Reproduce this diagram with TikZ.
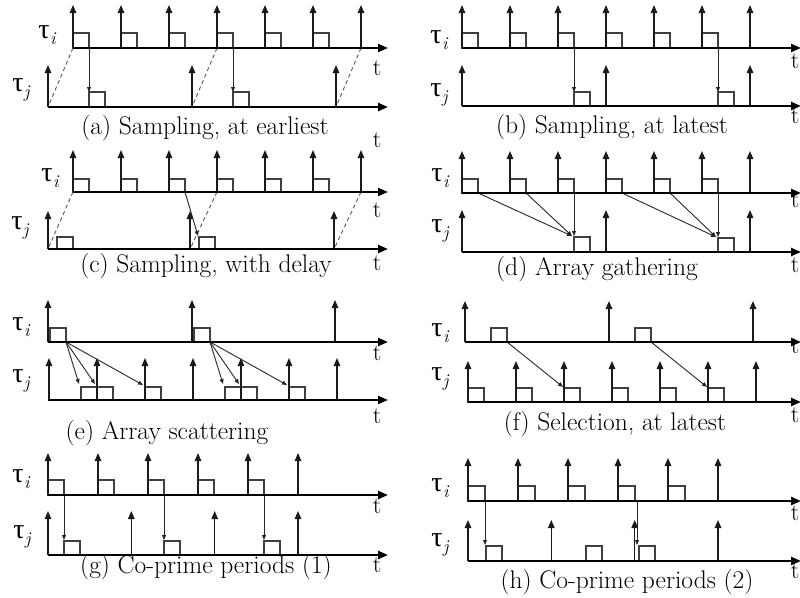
\documentclass[tikz,border=0pt]{standalone}
\usepackage{fontspec}
\newfontfamily\grk{Liberation Serif}
\usetikzlibrary{arrows.meta}
\newcommand{\tauof}[1]{{\grk τ}\kern0.5pt\raisebox{-6pt}{\fontsize{18}{20}\selectfont\itshape #1}}
\tikzset{
  timeaxis/.style={line width=2.3pt, -{Triangle[length=10pt,width=8pt]}},
  pulse/.style={line width=1.3pt, black!90, -{Triangle[length=8pt,width=6.5pt]}},
  jobbox/.style={draw=black!75, line width=1.1pt},
  msg/.style={line width=0.9pt, black!85, -{Triangle[length=5pt,width=4pt]}},
  dep/.style={line width=0.9pt, black!65, dash pattern=on 4pt off 3pt},
  tlab/.style={font=\fontsize{24}{28}\selectfont\addfontfeatures{FakeBold=1.5}, inner sep=0pt, anchor=base},
  captext/.style={font=\fontsize{25.5}{30}\selectfont\addfontfeatures{FakeBold=1.5}, inner sep=0pt, anchor=base},
  taulab/.style={font=\fontsize{28}{32}\selectfont, inner sep=0pt},
}
\begin{document}
\begin{tikzpicture}[x=1pt,y=-1pt]
\useasboundingbox (0,0) rectangle (800,597);

% ---------------- (a) Sampling, at earliest
\foreach \k in {0,...,5} \draw[jobbox] (73+48*\k,48) rectangle ++(16,-15);
\draw[jobbox] (89,107) rectangle ++(16,-15);
\draw[jobbox] (233,107) rectangle ++(16,-15);
\foreach \k in {0,...,6} \draw[pulse] (73+48*\k,48) -- ++(0,-43);
\foreach \x in {48,192,336} \draw[pulse] (\x,107) -- ++(0,-42);
\draw[dep] (73,48) -- (48,107);
\draw[dep] (217,48) -- (192,107);
\draw[dep] (361,48) -- (336,107);
\draw[msg] (89,48) -- (89,92);
\draw[msg] (233,48) -- (233,92);
\draw[timeaxis] (73,48) -- (388,48);
\draw[timeaxis] (48,107) -- (388,107);
\node[taulab] (ai) at (47,35) {\tauof{i}};
\node[taulab] (aj) at (21,90) {\tauof{j}};
\node[tlab] (ati) at (377,75) {t};
\node[tlab] (atj) at (377,147) {t};
\node[captext] (capa) at (205,134) {(a) Sampling, at earliest};

% ---------------- (b) Sampling, at latest
\foreach \k in {0,...,5} \draw[jobbox] (462+48*\k,48) rectangle ++(16,-15);
\draw[jobbox] (574,106) rectangle ++(16,-14);
\draw[jobbox] (718,106) rectangle ++(16,-14);
\foreach \k in {0,...,6} \draw[pulse] (462+48*\k,48) -- ++(0,-43);
\foreach \x in {462,606,750} \draw[pulse] (\x,106) -- ++(0,-41);
\draw[msg] (574,48) -- (574,92);
\draw[msg] (718,48) -- (718,92);
\draw[timeaxis] (462,48) -- (801,48);
\draw[timeaxis] (462,106) -- (801,106);
\node[taulab] (bi) at (439,40) {\tauof{i}};
\node[taulab] (bj) at (439,95) {\tauof{j}};
\node[tlab] (bti) at (795,68) {t};
\node[tlab] (btj) at (795,123) {t};
\node[captext] (capb) at (612,133) {(b) Sampling, at latest};

% ---------------- (c) Sampling, with delay
\foreach \k in {0,...,5} \draw[jobbox] (73+48*\k,192) rectangle ++(16,-13);
\draw[jobbox] (57,249) rectangle ++(16,-12);
\draw[jobbox] (199,249) rectangle ++(16,-12);
\foreach \k in {0,...,6} \draw[pulse] (73+48*\k,192) -- ++(0,-42);
\foreach \x in {48,190,334} \draw[pulse] (\x,249) -- ++(0,-38);
\draw[dep] (73,192) -- (48,249);
\draw[dep] (217,192) -- (190,249);
\draw[dep] (361,192) -- (334,249);
\draw[msg] (185,192) -- (198,236);
\draw[timeaxis] (73,192) -- (388,192);
\draw[timeaxis] (48,249) -- (388,249);
\node[taulab] (ci) at (50,178) {\tauof{i}};
\node[taulab] (cj) at (20,228) {\tauof{j}};
\node[tlab] (cti) at (377,217) {t};
\node[tlab] (ctj) at (377,270) {t};
\node[captext] (capc) at (206,272) {(c) Sampling, with delay};

% ---------------- (d) Array gathering
\foreach \k in {0,...,5} \draw[jobbox] (462+48*\k,193) rectangle ++(16,-14);
\draw[jobbox] (574,252) rectangle ++(16,-15);
\draw[jobbox] (718,252) rectangle ++(16,-14);
\foreach \k in {0,...,6} \draw[pulse] (462+48*\k,193) -- ++(0,-42);
\foreach \x in {462,606,750} \draw[pulse] (\x,252) -- ++(0,-42);
\draw[msg] (478,193) -- (572,236);
\draw[msg] (526,193) -- (572,236);
\draw[msg] (574,193) -- (574,236);
\draw[msg] (622,193) -- (716,237);
\draw[msg] (670,193) -- (716,237);
\draw[msg] (718,193) -- (718,237);
\draw[timeaxis] (462,193) -- (801,193);
\draw[timeaxis] (462,252) -- (801,252);
\node[taulab] (di) at (440,178) {\tauof{i}};
\node[taulab] (dj) at (440,231) {\tauof{j}};
\node[tlab] (dti) at (795,207) {t};
\node[tlab] (dtj) at (795,272) {t};
\node[captext] (capd) at (597,275) {(d) Array gathering};

% ---------------- (e) Array scattering
\foreach \x in {50,194} \draw[jobbox] (\x,342) rectangle ++(16,-14);
\foreach \x in {81,97,145,225,241,289} \draw[jobbox] (\x,400) rectangle ++(16,-13);
\foreach \x in {48,192,335} \draw[pulse] (\x,342) -- ++(0,-42);
\foreach \k in {0,...,6} \draw[pulse] (49+48*\k,400) -- ++(0,-42);
\draw[msg] (66,342) -- (79,384);
\draw[msg] (66,342) -- (95,384);
\draw[msg] (66,342) -- (143,385);
\draw[msg] (210,342) -- (223,384);
\draw[msg] (210,342) -- (239,384);
\draw[msg] (210,342) -- (287,385);
\draw[timeaxis] (48,342) -- (388,342);
\draw[timeaxis] (48,400) -- (388,400);
\node[taulab] (ei) at (21,327) {\tauof{i}};
\node[taulab] (ej) at (21,381) {\tauof{j}};
\node[tlab] (eti) at (377,360) {t};
\node[tlab] (etj) at (377,423) {t};
\node[captext] (cape) at (167,439) {(e) Array scattering};

% ---------------- (f) Selection, at latest
\foreach \x in {491,635} \draw[jobbox] (\x,342) rectangle ++(16,-14);
\foreach \k in {0,...,5} \draw[jobbox] (468+48*\k,402) rectangle ++(16,-14);
\foreach \x in {465,609,753} \draw[pulse] (\x,342) -- ++(0,-41);
\foreach \k in {0,...,6} \draw[pulse] (468+48*\k,402) -- ++(0,-41);
\draw[msg] (507,342) -- (563,387);
\draw[msg] (651,342) -- (707,387);
\draw[timeaxis] (465,342) -- (801,342);
\draw[timeaxis] (468,402) -- (801,402);
\node[taulab] (fi) at (440,333) {\tauof{i}};
\node[taulab] (fj) at (440,379) {\tauof{j}};
\node[tlab] (fti) at (795,353) {t};
\node[tlab] (ftj) at (795,422) {t};
\node[captext] (capf) at (615,430) {(f) Selection, at latest};

% ---------------- (g) Co-prime periods (1)
\foreach \k in {0,...,4} \draw[jobbox] (48+50*\k,495) rectangle ++(16,-15);
\foreach \x in {64,164,264} \draw[jobbox] (\x,555) rectangle ++(16,-14);
\foreach \k in {0,...,5} \draw[pulse] (48+50*\k,495) -- ++(0,-42);
\foreach \x in {48,131.3,214.7,298} \draw[pulse] (\x,555) -- ++(0,-44);
\draw[msg] (64,495) -- (64,540);
\draw[msg] (164,495) -- (164,540);
\draw[msg] (264,495) -- (264,540);
\draw[timeaxis] (48,495) -- (388,495);
\draw[timeaxis] (48,555) -- (388,555);
\node[taulab] (gi) at (21,479) {\tauof{i}};
\node[taulab] (gj) at (22,537) {\tauof{j}};
\node[tlab] (gti) at (377,513) {t};
\node[tlab] (gtj) at (377,572) {t};
\node[captext] (capg) at (206,573) {(g) Co-prime periods (1)};

% ---------------- (h) Co-prime periods (2)
\foreach \k in {0,...,4} \draw[jobbox] (468+50*\k,501) rectangle ++(17,-15);
\foreach \x in {486,586,639} \draw[jobbox] (\x,561) rectangle ++(16,-15);
\foreach \k in {0,...,5} \draw[pulse] (468+50*\k,501) -- ++(0,-43);
\foreach \x in {468,551.3,634.7,718} \draw[pulse] (\x,561) -- ++(0,-41);
\draw[msg] (485,501) -- (485,545);
\draw[msg] (637,501) -- (637,545);
\draw[timeaxis] (468,501) -- (801,501);
\draw[timeaxis] (468,561) -- (801,561);
\node[taulab] (hi) at (440,488) {\tauof{i}};
\node[taulab] (hj) at (440,545) {\tauof{j}};
\node[tlab] (hti) at (795,520) {t};
\node[tlab] (htj) at (795,578) {t};
\node[captext] (caph) at (627,588) {(h) Co-prime periods (2)};
\end{tikzpicture}
\end{document}
